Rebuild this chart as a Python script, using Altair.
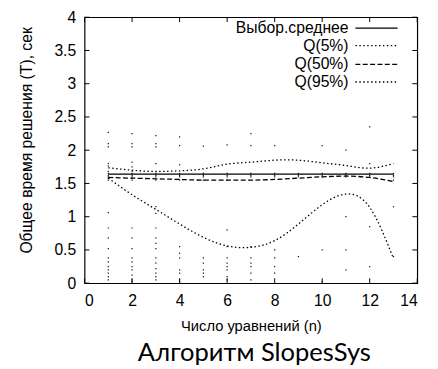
import altair as alt
import pandas as pd

# ---- data ----
n_vals = list(range(1, 14))
mean_vals = [1.64, 1.64, 1.64, 1.64, 1.64, 1.64, 1.64, 1.64, 1.64, 1.64, 1.64, 1.64, 1.64]
q5_vals = [1.58, 1.33, 1.11, 0.89, 0.69, 0.56, 0.54, 0.64, 0.89, 1.18, 1.34, 1.14, 0.37]
q50_vals = [1.59, 1.58, 1.57, 1.56, 1.55, 1.55, 1.55, 1.56, 1.58, 1.60, 1.61, 1.59, 1.53]
q95_vals = [1.735, 1.70, 1.68, 1.69, 1.72, 1.79, 1.82, 1.85, 1.85, 1.81, 1.77, 1.73, 1.80]

scatter_cols = {
    1: [2.27, 2.1, 2.05, 1.80, 1.76, 1.68, 1.65, 1.62, 1.6, 1.58, 1.55, 1.06, 0.83, 0.68, 0.52, 0.38, 0.32, 0.25, 0.2, 0.15, 0.1, 0.05],
    2: [2.25, 2.1, 2.05, 1.82, 1.75, 1.68, 1.65, 1.62, 1.6, 1.58, 1.55, 0.83, 0.68, 0.52, 0.38, 0.32, 0.25, 0.2, 0.12, 0.05, 0.02],
    3: [2.22, 2.1, 2.05, 1.8, 1.65, 1.62, 1.6, 1.55, 1.15, 1.05, 0.83, 0.68, 0.6, 0.52, 0.38, 0.3, 0.22, 0.15, 0.1, 0.05],
    4: [2.2, 2.07, 1.78, 1.65, 1.62, 1.6, 1.55, 0.55, 0.45, 0.38, 0.2, 0.15, 0.05, 0.02],
    5: [2.06, 1.65, 1.62, 1.6, 1.55, 0.38, 0.3, 0.2, 0.15, 0.1],
    6: [2.08, 1.65, 1.62, 1.6, 1.55, 0.8, 0.55, 0.38, 0.3, 0.25, 0.2, 0.1, 0.05],
    7: [2.25, 2.07, 1.65, 1.62, 1.6, 0.55, 0.38, 0.3, 0.25, 0.15, 0.05],
    8: [2.07, 1.65, 1.62, 1.6, 0.5, 0.38, 0.25, 0.15],
    9: [1.65, 1.62, 1.6, 0.4],
    10: [2.07, 1.65, 1.62, 1.6, 0.5, 0.02],
    11: [2.0, 1.65, 1.62, 1.6, 1.0, 0.5, 0.2],
    12: [2.35, 1.8, 1.65, 1.62, 1.6, 0.85, 0.25],
    13: [1.65, 1.62, 1.6, 1.55, 1.15, 0.4],
}

series_names = ["Выбор.среднее", "Q(5%)", "Q(50%)", "Q(95%)"]
series_vals = [mean_vals, q5_vals, q50_vals, q95_vals]
series_dash = [[1, 0], [1.5, 2.5], [5, 2.5], [1.5, 2.5]]

x_ticks = [0, 2, 4, 6, 8, 10, 12, 14]
y_ticks = [0, 0.5, 1, 1.5, 2, 2.5, 3, 3.5, 4]

title_text = "Алгоритм SlopesSys"
x_title = "Число уравнений (n)"
y_title = "Общее время решения (T), сек"

# ---- layout ----
W, H = 339, 271
FONT = "Liberation Sans"
FS = 16

xs = alt.Scale(domain=[0, 14], nice=False, zero=False)
ys = alt.Scale(domain=[0, 4], nice=False, zero=False)

scatter_df = pd.DataFrame(
    [{"n": k, "t": v} for k, vs in scatter_cols.items() for v in vs]
)

x_axis = alt.Axis(values=x_ticks, title=x_title, format="~g", titleFontSize=15,
                  labelPadding=10, titleX=W / 2, titleY=43, titleBaseline="middle")
y_axis = alt.Axis(values=y_ticks, title=y_title, format="~g", titleFontSize=16,
                  labelPadding=9, titleX=-59, titleY=125, titleAngle=-90,
                  titleBaseline="middle", titleAlign="center")

nx = alt.X("n:Q", scale=xs, axis=x_axis)
ny = alt.Y("t:Q", scale=ys, axis=y_axis)

points = alt.Chart(scatter_df).mark_square(size=1.6, color="black", opacity=0.9).encode(
    x=nx, y=ny
)

layers = [points]
for name, vals, dash in zip(series_names, series_vals, series_dash):
    df = pd.DataFrame({"n": n_vals, "t": vals})
    layers.append(
        alt.Chart(df).mark_line(color="black", strokeWidth=1.3, strokeDash=dash,
                                interpolate="natural").encode(x=nx, y=ny)
    )

# inward ticks on all four sides
xt_df = pd.DataFrame({"n": x_ticks})
yt_df = pd.DataFrame({"t": y_ticks})
tick_len = 5
layers.append(alt.Chart(xt_df).mark_rule(color="black", strokeWidth=1).encode(
    x=nx, y=alt.value(H), y2=alt.value(H - tick_len)))
layers.append(alt.Chart(xt_df).mark_rule(color="black", strokeWidth=1).encode(
    x=nx, y=alt.value(0), y2=alt.value(tick_len)))
layers.append(alt.Chart(yt_df).mark_rule(color="black", strokeWidth=1).encode(
    y=ny, x=alt.value(0), x2=alt.value(tick_len)))
layers.append(alt.Chart(yt_df).mark_rule(color="black", strokeWidth=1).encode(
    y=ny, x=alt.value(W), x2=alt.value(W - tick_len)))

# legend (gnuplot style: label then sample)
row_y = [11, 29, 48, 66]
one = pd.DataFrame({"a": [0]})
for name, dash, ry in zip(series_names, series_dash, row_y):
    layers.append(alt.Chart(one).mark_text(align="right", baseline="middle", font=FONT,
                                           fontSize=FS, color="black").encode(
        x=alt.value(269), y=alt.value(ry), text=alt.value(name)))
    layers.append(alt.Chart(one).mark_rule(color="black", strokeWidth=1.3, strokeDash=dash).encode(
        x=alt.value(276), x2=alt.value(319), y=alt.value(ry)))

# main title under the chart
layers.append(alt.Chart(one).mark_text(align="center", baseline="alphabetic", font="Lato",
                                       fontSize=26, color="black").encode(
    x=alt.value(173), y=alt.value(350), text=alt.value(title_text)))

chart = alt.layer(*layers).properties(
    width=W, height=H,
    autosize=alt.AutoSizeParams(type="none"),
    padding={"left": 78, "top": 6, "right": 13, "bottom": 82},
    background="white",
).configure_view(stroke="black", strokeWidth=1.2).configure_axis(
    labelOverlap=False, labelFont=FONT, labelFontSize=FS, labelColor="black",
    ticks=False, domain=False, grid=False,
    titleFont=FONT, titleFontWeight="normal", titleColor="black",
)

chart.save("out.html", embed_options={"renderer": "svg", "actions": False})
